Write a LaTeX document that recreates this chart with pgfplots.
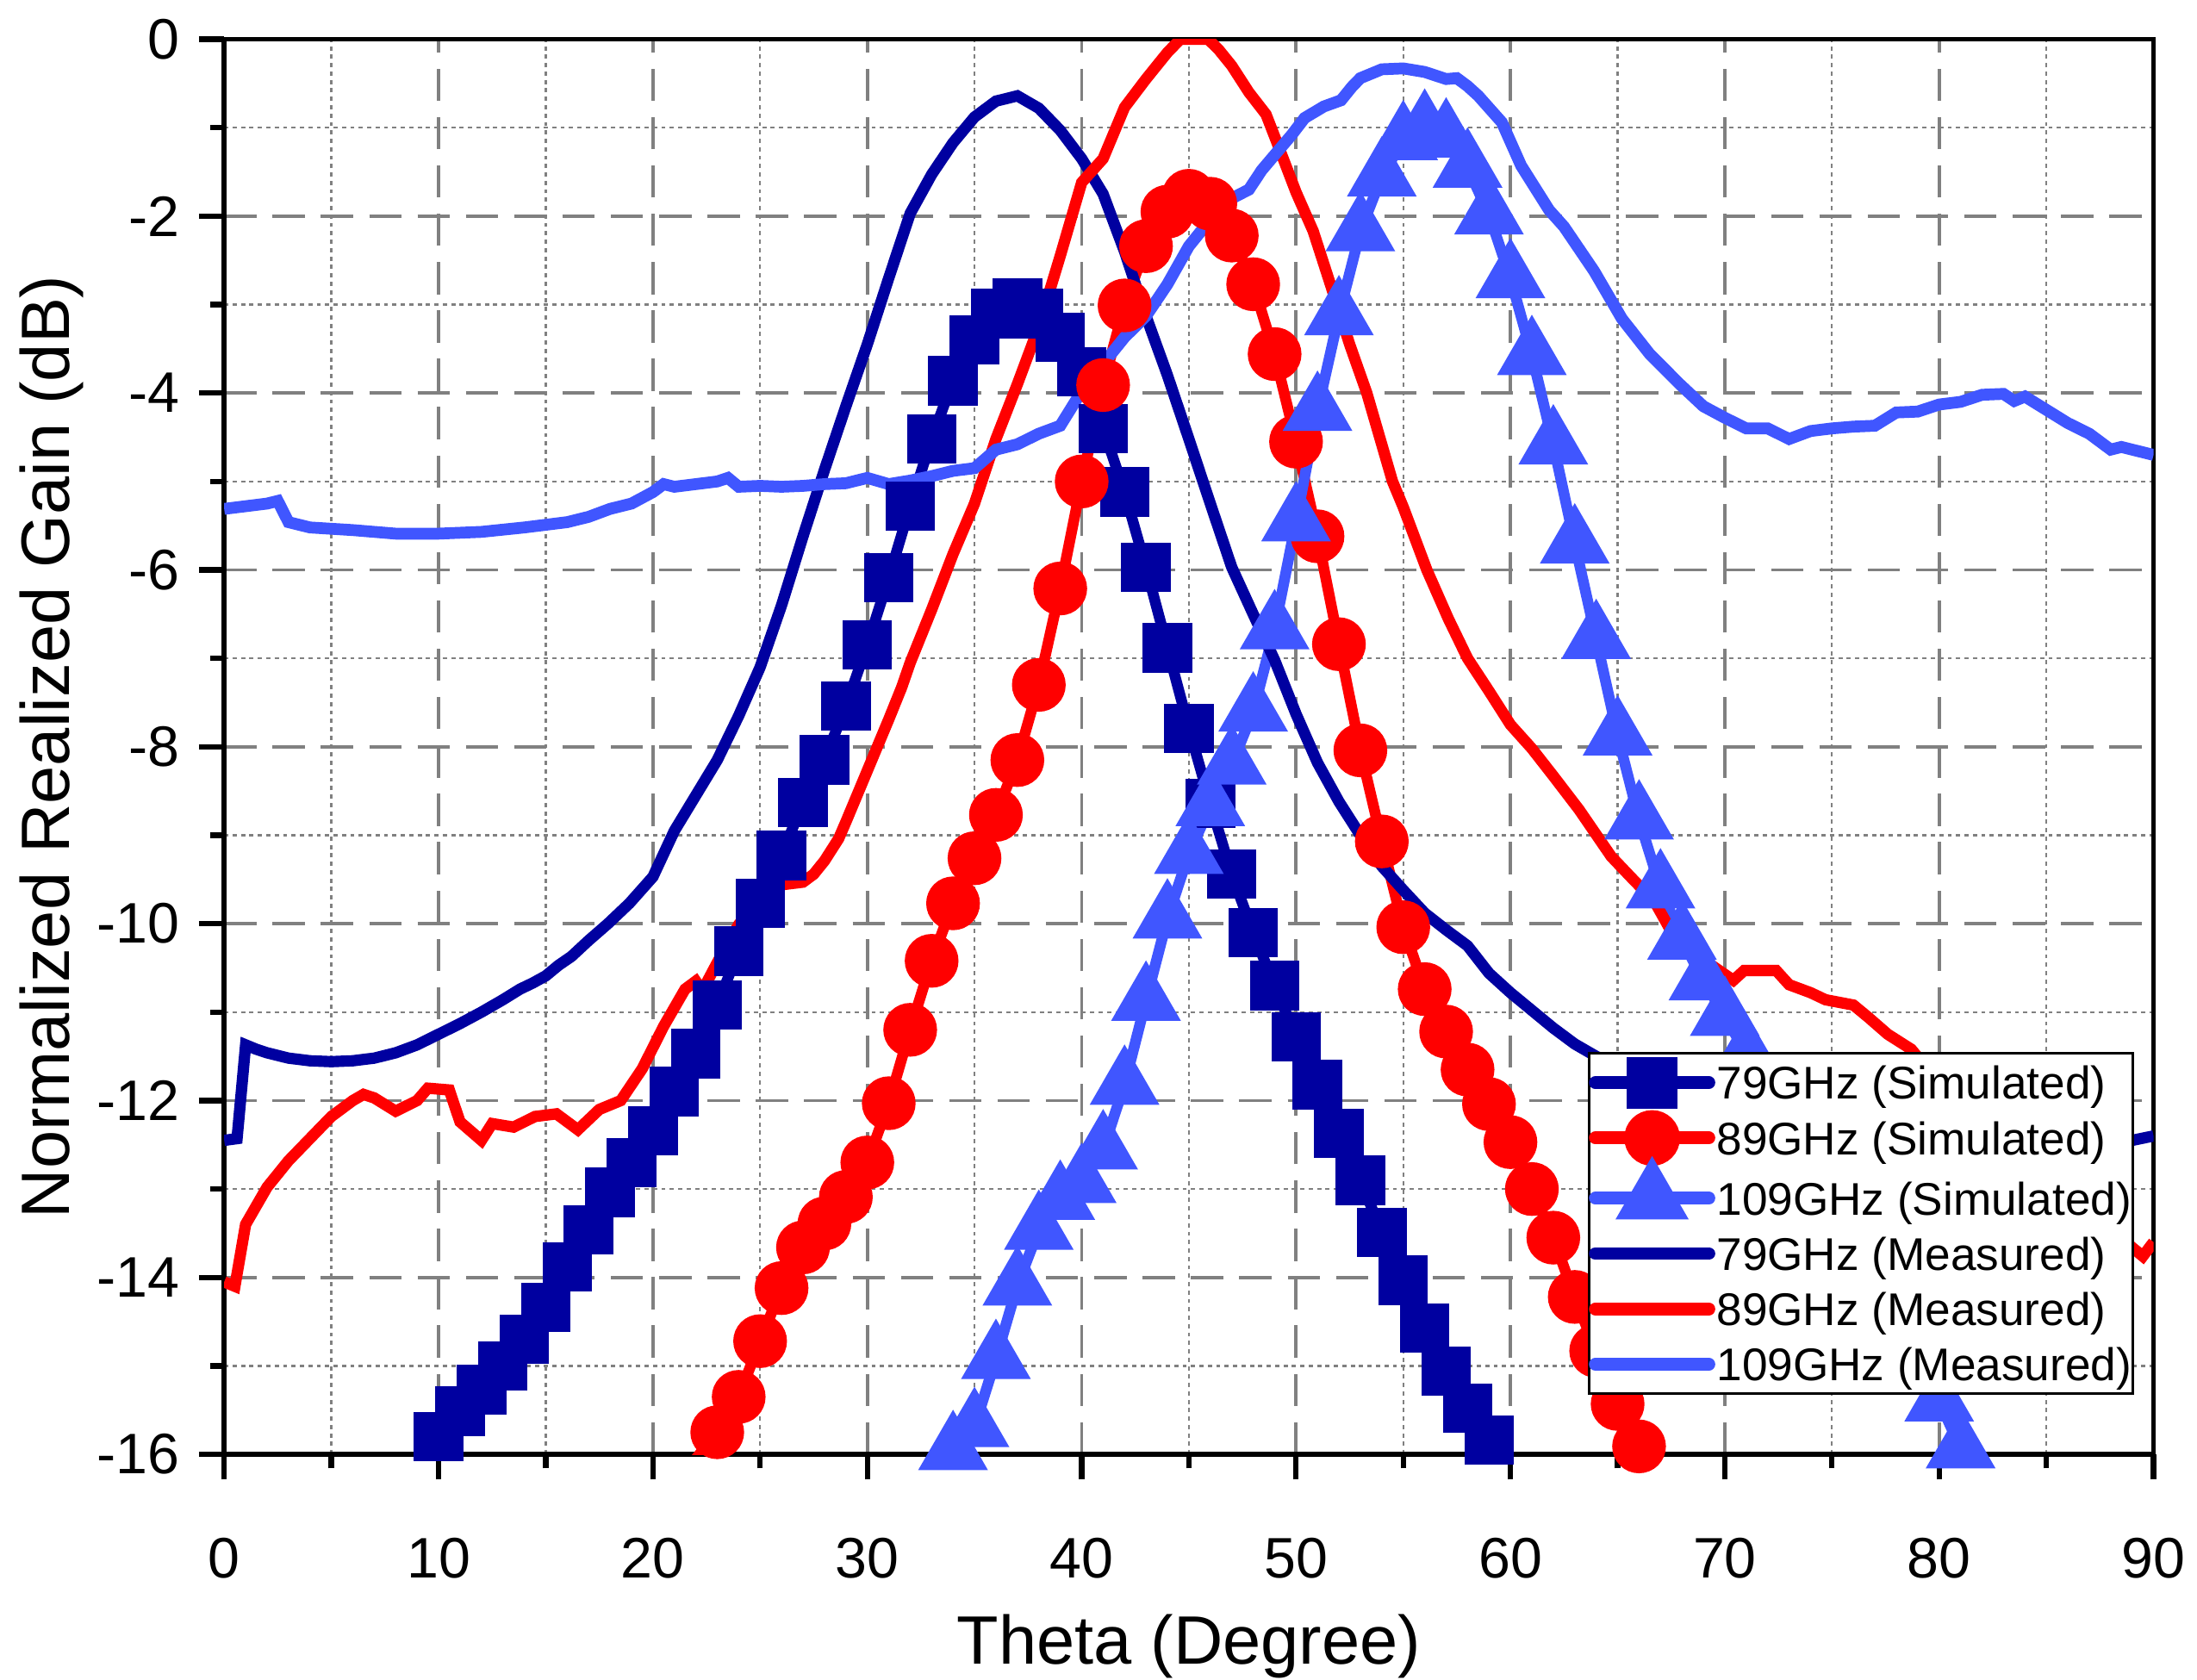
\documentclass[border=0pt]{standalone}
\usepackage{pgfplots}
\pgfplotsset{compat=1.18}
\usepackage{fontspec}
\setmainfont{Liberation Sans}
\definecolor{navy}{RGB}{0,0,160}
\definecolor{lblue}{RGB}{64,86,255}
\definecolor{gridgray}{RGB}{128,128,128}
\pgfplotsset{
  legend image code/.code={%
    \draw[mark repeat=2,mark phase=2,#1,line width=2.6pt,line cap=round]
      plot coordinates {(0mm,0mm) (4.05mm,0mm) (8.1mm,0mm)};},
}
\begin{document}
\begin{tikzpicture}
\begin{axis}[
  at={(0,0)}, anchor=south west, scale only axis,
  width=137.7mm, height=101mm,
  xmin=0, xmax=90, ymin=-16, ymax=0,
  xtick={0,10,...,90}, xticklabels={0,10,20,30,40,50,60,70,80,90},
  ytick={-16,-14,...,0}, yticklabels={-16,-14,-12,-10,-8,-6,-4,-2,0},
  minor x tick num=1, minor y tick num=1,
  tick align=outside, tick pos=left,
  major tick length=1.8mm, minor tick length=1.0mm,
  every tick/.style={black, line width=1.1pt},
  axis line style={line width=1pt},
  grid=both,
  major grid style={gridgray, line width=0.65pt, dash pattern=on 2.3mm off 1.15mm},
  minor grid style={gridgray, line width=0.4pt, dash pattern=on 0.3mm off 0.3mm},
  ticklabel style={font=\fontsize{11.6}{13}\selectfont},
  xticklabel style={anchor=north, inner sep=0pt}, xticklabel shift=4.1mm,
  yticklabel style={anchor=east, inner sep=0pt}, yticklabel shift=1.3mm,
  label style={font=\fontsize{13.9}{16}\selectfont},
  xlabel={Theta (Degree)}, ylabel={Normalized Realized Gain (dB)},
  xlabel style={at={(axis description cs:0.5,-0.106)}, anchor=north, inner sep=0pt, yshift=-0.65mm},
  ylabel style={at={(axis description cs:-0.0723,0.5)}, anchor=south, inner sep=0pt},
  legend style={at={(0.7066,0.2845)}, anchor=north west, draw=black, line width=0.6pt,
    fill=white, inner xsep=0mm, inner ysep=0.35mm, row sep=0.45mm,
    font=\fontsize{9.3}{11}\selectfont,
    nodes={inner xsep=0.1mm, inner ysep=0pt, text height=2.93mm, text depth=0.57mm}},
  legend cell align=left,
]
\addplot[navy, line width=2.2pt, mark=square*, mark size=1.38mm] table {
9 -16.35
10 -15.8
11 -15.51
12 -15.27
13 -15.0
14 -14.7
15 -14.34
16 -13.88
17 -13.46
18 -13.04
19 -12.7
20 -12.34
21 -11.9
22 -11.47
23 -10.92
24 -10.31
25 -9.77
26 -9.23
27 -8.63
28 -8.15
29 -7.54
30 -6.85
31 -6.09
32 -5.28
33 -4.52
34 -3.86
35 -3.4
36 -3.1
37 -2.98
38 -3.1
39 -3.37
40 -3.76
41 -4.4
42 -5.12
43 -5.97
44 -6.88
45 -7.79
46 -8.64
47 -9.44
48 -10.1
49 -10.7
50 -11.28
51 -11.82
52 -12.37
53 -12.9
54 -13.49
55 -14.03
56 -14.57
57 -15.06
58 -15.48
59 -15.84
60 -16.3
};
\addplot[red, line width=2.2pt, mark=*, mark size=1.53mm] table {
21 -16.5
22 -16.05
23 -15.75
24 -15.35
25 -14.72
26 -14.12
27 -13.66
28 -13.39
29 -13.09
30 -12.7
31 -12.03
32 -11.2
33 -10.42
34 -9.77
35 -9.26
36 -8.77
37 -8.15
38 -7.3
39 -6.21
40 -5.0
41 -3.91
42 -3.01
43 -2.34
44 -1.95
45 -1.77
46 -1.86
47 -2.22
48 -2.77
49 -3.56
50 -4.55
51 -5.62
52 -6.84
53 -8.04
54 -9.07
55 -10.04
56 -10.74
57 -11.22
58 -11.65
59 -12.04
60 -12.47
61 -13.0
62 -13.55
63 -14.22
64 -14.83
65 -15.43
66 -15.91
67 -16.5
};
\addplot[lblue, line width=2.2pt, mark=triangle*, mark size=2.1mm] table {
32 -16.35
33 -16.12
34 -15.95
35 -15.69
36 -14.92
37 -14.09
38 -13.46
39 -13.12
40 -12.93
41 -12.55
42 -11.82
43 -10.87
44 -9.94
45 -9.21
46 -8.67
47 -8.2
48 -7.6
49 -6.67
50 -5.45
51 -4.2
52 -3.12
53 -2.17
54 -1.55
55 -1.14
56 -1.01
57 -1.11
58 -1.45
59 -1.98
60 -2.7
61 -3.57
62 -4.58
63 -5.7
64 -6.78
65 -7.87
66 -8.82
67 -9.6
68 -10.18
69 -10.64
70 -11.04
71 -11.47
72 -11.9
73 -12.35
74 -12.8
75 -13.25
76 -13.7
77 -14.12
78 -14.55
79 -14.97
80 -15.4
81 -15.93
82 -16.4
};
\addplot[navy, line width=2.3pt] table {
0 -12.45
0.6 -12.43
1.0 -11.37
1.5 -11.42
2 -11.46
3 -11.52
4 -11.55
5 -11.56
6 -11.55
7 -11.52
8 -11.46
9 -11.37
10 -11.25
11 -11.13
12 -11.0
13 -10.86
13.8 -10.74
14.4 -10.67
15 -10.59
15.6 -10.47
16.2 -10.37
17 -10.19
17.9 -10.0
18.9 -9.77
20 -9.47
21 -8.95
22 -8.55
23 -8.15
24 -7.65
25 -7.1
26 -6.4
27 -5.62
28 -4.87
29 -4.15
30 -3.45
31 -2.7
32 -1.97
33 -1.53
34 -1.17
35 -0.88
36 -0.7
37 -0.64
38 -0.78
39 -1.03
40 -1.35
41 -1.75
42 -2.4
43 -3.13
44 -3.8
45 -4.52
46 -5.25
47 -5.97
48 -6.5
49 -7.02
50 -7.63
51 -8.18
52 -8.62
53 -9.0
54 -9.35
55 -9.62
56 -9.88
57 -10.07
58 -10.25
59 -10.56
60 -10.78
61 -10.98
62 -11.18
63 -11.36
64 -11.5
66 -11.72
68 -11.9
70 -12.03
72 -12.13
75 -12.25
78 -12.32
81 -12.38
84 -12.42
87 -12.45
88.5 -12.46
89 -12.45
90 -12.4
};
\addplot[red, line width=2.3pt] table {
0 -14.05
0.5 -14.1
1 -13.4
2 -12.98
3 -12.68
4 -12.43
5 -12.18
6 -12.0
6.5 -11.93
7 -11.97
8 -12.12
9 -12.0
9.5 -11.86
10.5 -11.88
11 -12.24
12 -12.45
12.5 -12.26
13.5 -12.3
14.5 -12.18
15.5 -12.15
16.5 -12.33
17.5 -12.1
18.5 -12.0
19.5 -11.64
20.5 -11.16
21.5 -10.74
22 -10.65
22.3 -10.76
23 -10.44
24 -10.01
25 -9.71
26 -9.56
27 -9.53
27.5 -9.44
28 -9.29
28.66 -9.04
29 -8.85
30 -8.27
31 -7.69
31.6 -7.33
32 -7.05
33 -6.45
34 -5.82
35 -5.25
36 -4.52
37 -3.9
38 -3.25
39 -2.45
40 -1.62
41 -1.35
42 -0.77
43 -0.45
44 -0.15
44.6 0
45.9 0
46.4 -0.12
47 -0.3
47.8 -0.6
48.6 -0.85
49.4 -1.35
50 -1.73
50.8 -2.17
51.8 -2.92
52.5 -3.45
53.3 -4.0
54.5 -5.0
55 -5.29
56.1 -6.0
57.1 -6.55
58 -7.0
59 -7.37
60 -7.75
61 -8.02
62 -8.33
63.2 -8.71
64.7 -9.24
65.8 -9.52
66.7 -9.74
67.6 -10.13
68.9 -10.39
70.4 -10.64
70.9 -10.53
72.4 -10.53
73 -10.69
74 -10.78
74.7 -10.86
76 -10.92
76.7 -11.06
77.6 -11.25
78.7 -11.42
80 -11.8
82 -12.3
84 -12.75
86 -13.15
88 -13.5
88.9 -13.64
89.5 -13.76
90 -13.6
};
\addplot[lblue, line width=2.4pt] table {
0 -5.31
1 -5.28
2 -5.25
2.5 -5.22
3 -5.46
4 -5.52
6 -5.55
8 -5.59
10 -5.59
12 -5.57
14 -5.52
16 -5.46
17 -5.40
18 -5.31
19 -5.25
20 -5.12
20.5 -5.03
21 -5.06
22 -5.03
23 -5.0
23.5 -4.96
24 -5.06
25 -5.05
26 -5.06
27 -5.05
28 -5.03
29 -5.02
30 -4.96
31 -5.03
32 -4.99
33 -4.94
34 -4.88
35 -4.85
36 -4.64
37 -4.58
38 -4.46
39 -4.37
40 -3.98
41 -3.67
42 -3.37
43 -3.13
44 -2.77
45 -2.34
46 -2.04
47 -1.8
47.8 -1.7
48.4 -1.48
49.8 -1.08
50.4 -0.89
51.3 -0.76
52.1 -0.69
52.6 -0.54
53 -0.44
54 -0.34
55 -0.33
56 -0.37
57 -0.45
57.5 -0.44
58 -0.53
58.5 -0.64
59.6 -0.94
60.5 -1.43
61.8 -1.93
62.5 -2.12
63.9 -2.62
65.2 -3.16
66.5 -3.56
67.9 -3.9
69 -4.15
70 -4.28
71 -4.4
72 -4.4
73 -4.52
74 -4.43
75 -4.40
76 -4.38
77 -4.37
78 -4.22
79 -4.21
80 -4.13
81 -4.1
82 -4.02
83 -4.01
83.5 -4.09
84 -4.04
85 -4.19
86 -4.34
87 -4.46
88 -4.64
88.5 -4.61
89 -4.64
90 -4.7
};
\legend{79GHz (Simulated),89GHz (Simulated),109GHz (Simulated),79GHz (Measured),89GHz (Measured),109GHz (Measured)}
\end{axis}
\pgfresetboundingbox
\useasboundingbox (-16mm,-16.07mm) rectangle (140.8mm,103.8mm);
\end{tikzpicture}
\end{document}
